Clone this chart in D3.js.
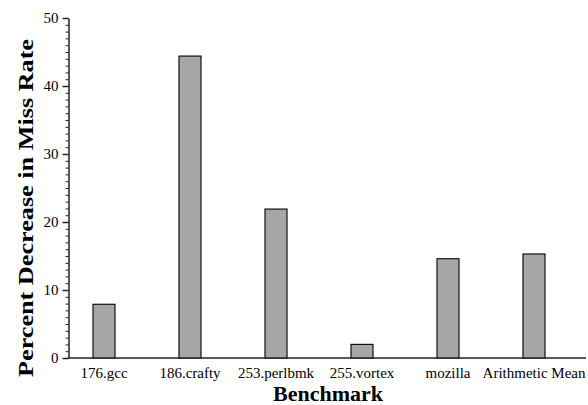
<!DOCTYPE html>
<html lang="en">
<head>
  <meta charset="UTF-8">
  <title>Percent Decrease in Miss Rate</title>
  <style>
    body { margin: 0; background: #fff; }
    text { font-family: "Liberation Serif", "Times New Roman", serif; fill: #000; }
  </style>
</head>
<body>
<div id="chart"></div>

<script src="https://cdn.jsdelivr.net/npm/d3@7/dist/d3.min.js"></script>
<script>
  const BENCHMARKS = ['176.gcc', '186.crafty', '253.perlbmk', '255.vortex', 'mozilla', 'Arithmetic Mean'];
  const DECREASE = [7.9, 44.4, 21.9, 2.0, 14.6, 15.3];
  const Y_TICKS = [0, 10, 20, 30, 40, 50];

  const DATA = BENCHMARKS.map(function (b, i) {
    return {name: b, value: DECREASE[i]};
  });

  const width = 588, height = 405;
  const axisX = 68.5, axisY = 358, plotTop = 18;
  const serif = '"Liberation Serif", "Times New Roman", serif';

  const svg = d3.select("#chart")
    .append("svg")
    .attr("width", width)
    .attr("height", height);

  // x scale: one narrow bar per band
  const x = d3.scaleBand()
    .domain(BENCHMARKS)
    .range([61, 577])
    .paddingInner(0.744)
    .paddingOuter(0.372);

  const y = d3.scaleLinear()
    .domain([0, 50])
    .range([axisY, plotTop]);

  // minor ticks every 1 unit
  svg.append("g")
    .attr("transform", "translate(" + axisX + ",0)")
    .call(d3.axisLeft(y).ticks(50).tickSize(3).tickFormat(""))
    .call(function (g) {
      g.select(".domain").remove();
      g.selectAll("line").attr("stroke", "#222").attr("stroke-width", 1);
    });

  // major ticks + labels
  svg.append("g")
    .attr("transform", "translate(" + axisX + ",0)")
    .call(d3.axisLeft(y).tickValues(Y_TICKS).tickSize(6).tickPadding(4).tickSizeOuter(0))
    .attr("font-family", serif)
    .attr("font-size", 15)
    .call(function (g) {
      g.select(".domain").attr("stroke", "#222").attr("stroke-width", 1.5);
      g.selectAll("line").attr("stroke", "#222").attr("stroke-width", 1.5);
      g.selectAll("text").attr("fill", "#000");
    });

  // x axis line with category labels, no ticks
  svg.append("g")
    .attr("transform", "translate(0," + axisY + ")")
    .call(d3.axisBottom(x).tickSize(0).tickPadding(9).tickSizeOuter(0))
    .attr("font-family", serif)
    .attr("font-size", 15)
    .call(function (g) {
      g.select(".domain").attr("d", "M" + axisX + ",0H586")
        .attr("stroke", "#222").attr("stroke-width", 1.5);
      g.selectAll("text").attr("fill", "#000");
    });

  // bars
  svg.selectAll("rect.bar")
    .data(DATA)
    .enter()
    .append("rect")
    .attr("class", "bar")
    .attr("x", function (d) { return x(d.name); })
    .attr("y", function (d) { return y(d.value); })
    .attr("width", x.bandwidth())
    .attr("height", function (d) { return axisY - y(d.value); })
    .attr("fill", "#a6a6a6")
    .attr("stroke", "#111")
    .attr("stroke-width", 1.2);

  // axis titles
  svg.append("text")
    .attr("x", 328)
    .attr("y", 401)
    .attr("text-anchor", "middle")
    .style("font-size", "22px")
    .style("font-weight", "bold")
    .text("Benchmark");

  svg.append("text")
    .attr("transform", "translate(33,208) rotate(-90)")
    .attr("text-anchor", "middle")
    .attr("textLength", 338)
    .attr("lengthAdjust", "spacingAndGlyphs")
    .style("font-size", "22px")
    .style("font-weight", "bold")
    .text("Percent Decrease in Miss Rate");
</script>
</body>
</html>
